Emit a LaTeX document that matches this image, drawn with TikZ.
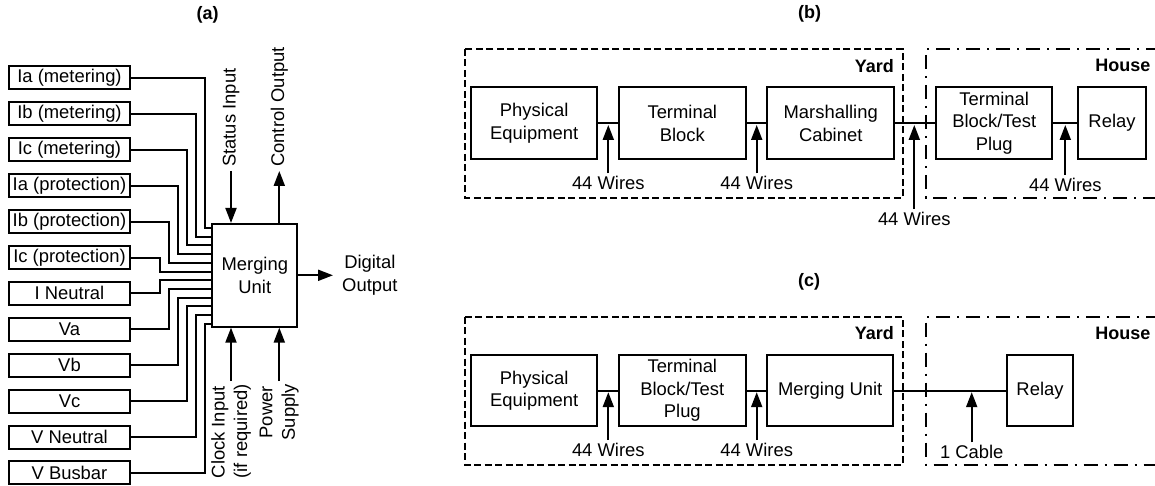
\documentclass[tikz,border=0pt]{standalone}
\usepackage{fontspec}
\setmainfont{Liberation Sans}
\usetikzlibrary{arrows.meta}
\begin{document}
\begin{tikzpicture}[x=1pt,y=-1pt,
  every node/.style={font=\fontsize{18.4}{22.5}\selectfont, inner sep=0pt},
  ttl/.style={font=\bfseries\fontsize{18}{22.5}\selectfont},
  inbox/.style={draw, line width=2pt, minimum width=121pt, minimum height=23pt},
  blk/.style={draw, line width=2pt, minimum height=71.5pt, align=center},
  wire/.style={line width=2pt},
  arr/.style={line width=2pt, -{Triangle[length=15pt,width=11pt]}},
  wl/.style={inner sep=3pt},
  yardbox/.style={line width=1.8pt, dash pattern=on 7pt off 3.5pt},
  housebox/.style={line width=1.8pt, dash pattern=on 14pt off 7pt on 2pt off 7pt}]
\useasboundingbox (0,0) rectangle (1155,486);

% ---------------- (a) ----------------
\node[ttl] (ta) at (207.7,15) {(a)};
\node[draw, line width=2pt, minimum width=85pt, minimum height=102.7pt, align=center] (mu) at (254.8,275.3) {Merging\\Unit};
\foreach \t [count=\i from 0] in {Ia (metering),Ib (metering),Ic (metering),Ia (protection),Ib (protection),Ic (protection),I Neutral,Va,Vb,Vc,V Neutral,V Busbar}{
  \pgfmathsetmacro\yb{78+35.9*\i}
  \node[inbox] (in\i) at (69.5,\yb) {\t};
}
\foreach \i in {0,...,11}{
  \pgfmathsetmacro\ye{228+8.7*\i}
  \pgfmathsetmacro\xv{\i<6 ? 204.7-9*\i : 159.7+9*(\i-6)}
  \draw[wire] (in\i.east) -| (\xv,\ye) -- (mu.west |- 0,\ye);
}
\node[rotate=90, anchor=west, inner sep=4pt] (stin) at (231,171) {Status Input};
\draw[arr] (stin.west) -- (stin.west |- mu.north);
\node[rotate=90, anchor=west, inner sep=4pt] (ctl) at (279.3,171) {Control Output};
\draw[arr] (ctl.west |- mu.north) -- (ctl.west);
\node[rotate=90, anchor=east, inner sep=3pt, align=left] (clk) at (231,381) {Clock Input\\(if required)};
\draw[arr] (clk.east) -- (clk.east |- mu.south);
\node[rotate=90, anchor=east, inner sep=3pt, align=center] (pwr) at (279.3,381) {Power\\Supply};
\draw[arr] (pwr.east) -- (pwr.east |- mu.south);
\node[align=center, anchor=west, inner xsep=9pt] (dout) at (333,275.3) {Digital\\Output};
\draw[arr] (mu.east) -- (dout.west);

% ---------------- (b) ----------------
\node[ttl] (tb) at (809.5,14) {(b)};
\draw[yardbox] (465,49) rectangle (902.7,197.7);
\draw[housebox] (1160,49) -- (926,49) -- (926,197.7) -- (1160,197.7);
\node[ttl, anchor=east] (yb) at (894,65.7) {Yard};
\node[ttl, anchor=east] (hb) at (1150.5,65.7) {House};
\node[blk, minimum width=126.3pt] (peb) at (534.2,123.2) {Physical\\Equipment};
\node[blk, minimum width=126.7pt] (tbb) at (682.3,123.2) {Terminal\\Block};
\node[blk, minimum width=126.7pt] (mcb) at (830.7,123.2) {Marshalling\\Cabinet};
\node[blk, minimum width=116.3pt] (tpb) at (994.2,123.2) {Terminal\\Block/Test\\Plug};
\node[blk, minimum width=67.4pt] (rlb) at (1112,123.2) {Relay};
\draw[wire] (peb) -- (tbb);
\draw[wire] (tbb) -- (mcb);
\draw[wire] (mcb) -- (tpb);
\draw[wire] (tpb) -- (rlb);
\node[wl] (wb1) at (608.3,183.3) {44 Wires};
\node[wl] (wb2) at (756.7,183.3) {44 Wires};
\node[wl] (wb3) at (914.3,219) {44 Wires};
\node[wl] (wb4) at (1065.3,185) {44 Wires};
\coordinate (ab1) at (608.3,125);
\coordinate (ab2) at (756.7,125);
\coordinate (ab3) at (914.3,125);
\coordinate (ab4) at (1065.3,125);
\draw[arr] (wb1.north) -- (ab1);
\draw[arr] (wb2.north) -- (ab2);
\draw[arr] (wb3.north) -- (ab3);
\draw[arr] (wb4.north) -- (ab4);

% ---------------- (c) ----------------
\node[ttl] (tc) at (809,282) {(c)};
\draw[yardbox] (465,316.7) rectangle (902.7,465);
\draw[housebox] (1160,316.7) -- (926,316.7) -- (926,465) -- (1160,465);
\node[ttl, anchor=east] (yc) at (894,333.3) {Yard};
\node[ttl, anchor=east] (hc) at (1150.5,333.3) {House};
\node[blk, minimum width=126.3pt] (pec) at (534.2,390.5) {Physical\\Equipment};
\node[blk, minimum width=126.7pt] (tbc) at (682.3,390.5) {Terminal\\Block/Test\\Plug};
\node[blk, minimum width=126.3pt] (muc) at (830.2,390.5) {Merging Unit};
\node[blk, minimum width=66.7pt] (rlc) at (1040,390.5) {Relay};
\draw[wire] (pec) -- (tbc);
\draw[wire] (tbc) -- (muc);
\draw[wire] (muc) -- (rlc);
\node[wl] (wc1) at (608.3,450) {44 Wires};
\node[wl] (wc2) at (756.7,450) {44 Wires};
\node[wl] (wc3) at (971.7,452.3) {1 Cable};
\coordinate (ac1) at (608.3,392.2);
\coordinate (ac2) at (756.7,392.2);
\coordinate (ac3) at (971.7,392.2);
\draw[arr] (wc1.north) -- (ac1);
\draw[arr] (wc2.north) -- (ac2);
\draw[arr] (wc3.north) -- (ac3);
\end{tikzpicture}
\end{document}
